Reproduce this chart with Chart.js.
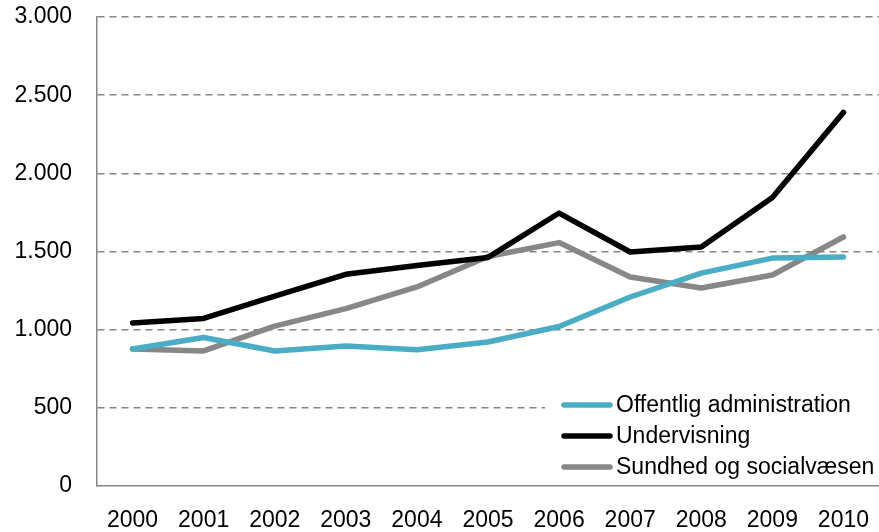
<!DOCTYPE html>
<html>
<head>
<meta charset="utf-8">
<script src="https://cdn.jsdelivr.net/npm/chart.js@4"></script>
<style>
  html, body { margin: 0; padding: 0; background: #fff; }
  #wrap { width: 879px; height: 532px; }
</style>
</head>
<body>
<div id="wrap"><canvas id="chart"></canvas></div>
<script>
const years = ['2000', '2001', '2002', '2003', '2004', '2005', '2006', '2007', '2008', '2009', '2010'];
const offentlig = [876, 950, 864, 895, 872, 921, 1020, 1209, 1362, 1458, 1465];
const undervisning = [1043, 1072, 1215, 1354, 1410, 1462, 1746, 1497, 1529, 1846, 2390];
const sundhed = [876, 864, 1023, 1135, 1273, 1468, 1557, 1337, 1267, 1350, 1593];
const seriesNames = ['Offentlig administration', 'Undervisning', 'Sundhed og socialvæsen'];
const yTicks = [0, 500, 1000, 1500, 2000, 2500, 3000];

const FONT = '"Liberation Sans", Arial, sans-serif';

function fmt(v) {
  return String(v).replace(/\B(?=(\d{3})+(?!\d))/g, '.');
}

// legend drawn inside the plot, bottom right, on a white box
const insideLegend = {
  id: 'insideLegend',
  afterDatasetsDraw(chart) {
    const ctx = chart.ctx;
    const a = chart.chartArea;
    ctx.save();
    ctx.fillStyle = '#fff';
    ctx.fillRect(545, 388, a.right - 545, 94);
    ctx.font = '23px ' + FONT;
    ctx.textBaseline = 'middle';
    chart.data.datasets.forEach((ds, i) => {
      const y = 405 + i * 31;
      ctx.strokeStyle = ds.borderColor;
      ctx.lineWidth = 5.5;
      ctx.lineCap = 'round';
      ctx.beginPath();
      ctx.moveTo(564, y);
      ctx.lineTo(610, y);
      ctx.stroke();
      ctx.fillStyle = '#000';
      ctx.fillText(ds.label, 616, y + 1);
    });
    ctx.restore();
  }
};

new Chart(document.getElementById('chart'), {
  type: 'line',
  data: {
    labels: years,
    datasets: [
      { label: seriesNames[0], data: offentlig, borderColor: '#4bacc6' },
      { label: seriesNames[1], data: undervisning, borderColor: '#000000' },
      { label: seriesNames[2], data: sundhed, borderColor: '#878787' }
    ].map(d => Object.assign(d, {
      borderWidth: 5.5,
      pointRadius: 0,
      tension: 0,
      fill: false,
      borderCapStyle: 'round',
      borderJoinStyle: 'round'
    }))
  },
  options: {
    responsive: true,
    maintainAspectRatio: false,
    animation: false,
    layout: { padding: { top: 17, right: 0, left: 0, bottom: 0 } },
    plugins: {
      legend: { display: false },
      tooltip: { enabled: false }
    },
    scales: {
      x: {
        offset: true,
        grid: { display: false, drawTicks: false },
        border: { color: '#868686', width: 1.5 },
        ticks: {
          color: '#000',
          padding: 21,
          maxRotation: 0,
          font: { family: FONT, size: 23 }
        },
        afterFit(scale) {
          scale.height = 46;
          scale.paddingLeft = 0;
          scale.paddingRight = 0;
        }
      },
      y: {
        min: 0,
        max: 3000,
        afterBuildTicks(scale) { scale.ticks = yTicks.map(v => ({ value: v })); },
        grid: {
          drawTicks: false,
          color: c => c.tick && c.tick.value === 0 ? 'rgba(0,0,0,0)' : '#868686',
          lineWidth: 1.6
        },
        border: { color: '#868686', width: 1.5, dash: [7, 5] },
        ticks: {
          color: '#000',
          padding: 25,
          font: { family: FONT, size: 23 },
          callback: v => fmt(v)
        },
        afterFit(scale) {
          scale.width = 97;
          scale.paddingTop = 0;
          scale.paddingBottom = 0;
        }
      }
    }
  },
  plugins: [insideLegend]
});
</script>
</body>
</html>
